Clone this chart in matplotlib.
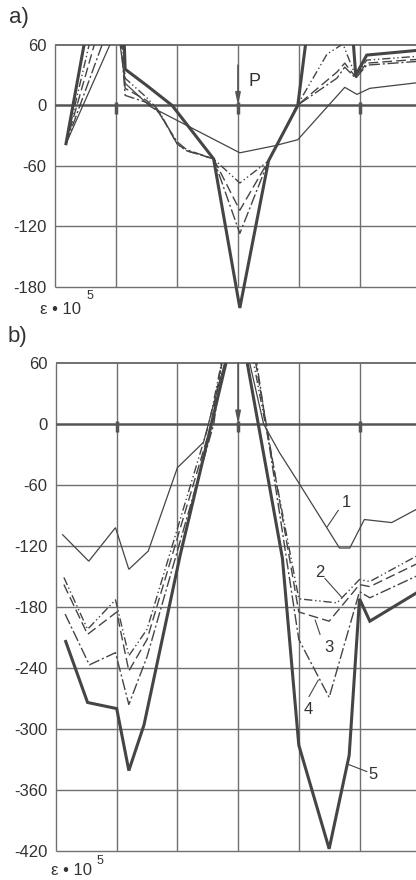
import matplotlib
matplotlib.use('Agg')
import matplotlib.pyplot as plt

plt.rcParams['font.family'] = ['Liberation Sans', 'DejaVu Sans']

# x: gauge position in grid divisions from the left frame, y: strain eps*10^5
# panel a)
a_x1 = [0.18, 1.03, 1.15, 1.56, 3.03, 3.6, 3.98, 4.75, 4.95, 5.16, 6.0]
a_y1 = [-38, 78, 22, -1, -47, -40, -34, 18, 11, 17, 23]
a_x2 = [0.18, 1.03, 1.15, 1.5, 1.7, 2.0, 2.16, 2.6, 3.03, 3.5, 3.97, 4.46, 4.72, 4.93, 5.11, 6.0]
a_y2 = [-38, 182, 27, 8, -5, -38, -45, -53, -77, -55, 0, 51, 61, 29, 45, 49]
a_x3 = [0.18, 1.03, 1.15, 1.5, 1.7, 2.0, 2.16, 2.6, 3.03, 3.5, 3.97, 4.62, 4.75, 4.93, 5.11, 6.0]
a_y3 = [-38, 142, 17, 5, -6, -38, -45, -53, -104, -55, 0, 33, 42, 28, 42, 46]
a_x4 = [0.18, 1.03, 1.15, 1.5, 1.7, 2.0, 2.16, 2.6, 3.03, 3.5, 3.97, 4.62, 4.75, 4.93, 5.11, 6.0]
a_y4 = [-38, 103, 10, 3, -7, -36, -44, -53, -127, -55, 0, 27, 38, 27, 40, 44]
a_x5 = [0.18, 1.03, 1.15, 1.5, 1.92, 2.6, 3.03, 3.5, 3.98, 4.4, 4.82, 4.93, 5.11, 6.0]
a_y5 = [-38, 244, 36, 20, 0, -53, -201, -55, 0, 200, 120, 30, 50, 55]

# panel b)
b_x1 = [0.11, 0.54, 0.98, 1.2, 1.52, 2.0, 2.43, 3.0, 3.42, 3.68, 4.0, 4.67, 4.84, 5.08, 5.53, 6.0]
b_y1 = [-109, -135, -102, -143, -125, -43, -18, 110, 0, -28, -58, -122, -122, -94, -97, -82]
b_x2 = [0.13, 0.52, 0.98, 1.2, 1.5, 2.52, 3.0, 4.0, 4.63, 5.0, 5.17, 6.0]
b_y2 = [-151, -202, -173, -228, -202, 0, 140, -172, -176, -153, -155, -128]
b_x3 = [0.13, 0.52, 1.0, 1.2, 1.5, 2.56, 3.0, 4.0, 4.5, 5.0, 5.17, 6.0]
b_y3 = [-158, -207, -185, -243, -212, 0, 160, -185, -194, -158, -160, -136]
b_x4 = [0.15, 0.55, 0.98, 1.2, 1.5, 2.6, 3.0, 4.0, 4.5, 5.0, 5.17, 6.0]
b_y4 = [-187, -237, -225, -276, -229, 0, 180, -212, -269, -165, -171, -148]
b_x5 = [0.16, 0.52, 1.0, 1.2, 1.45, 2.05, 3.0, 3.73, 4.0, 4.5, 4.83, 5.0, 5.17, 6.0]
b_y5 = [-214, -274, -280, -341, -296, -128, 110, -132, -316, -418, -326, -172, -194, -164]

a_yticks = [60, 0, -60, -120, -180]
b_yticks = [60, 0, -60, -120, -180, -240, -300, -360, -420]

# curve labels in b): (text pos, leader start, leader end)
b_labels = {
    '1': ((4.78, -77), (4.65, -85), (4.47, -101)),
    '2': ((4.35, -146), (4.43, -152), (4.70, -170)),
    '3': ((4.50, -220), (4.35, -207), (4.27, -193)),
    '4': ((4.15, -281), (4.17, -268), (4.32, -252)),
    '5': ((5.23, -345), (5.12, -342), (4.82, -335)),
}

LINE = '#454545'
GRID = '#707070'
TXT = '#333333'

STYLES = [
    dict(lw=0.9, ls='-'),
    dict(lw=1.0, ls=(0, (6, 2, 1, 2, 1, 2))),
    dict(lw=1.0, ls=(0, (7, 3))),
    dict(lw=1.0, ls=(0, (8, 2, 1.5, 2))),
    dict(lw=2.2, ls='-'),
]

W, H = 416, 880


def px_axes(fig, left, top, right, bottom):
    return fig.add_axes([left / W, 1 - bottom / H, (right - left) / W, (bottom - top) / H])


def setup(ax, yticks, ylow, xmax):
    ybot = yticks[-1]
    ax.set_xlim(0, xmax)
    ax.set_ylim(ylow, 60)
    for s in ax.spines.values():
        s.set_visible(False)
    ax.set_xticks([])
    ax.set_yticks(yticks)
    ax.set_yticklabels([str(v) for v in yticks])
    ax.tick_params(axis='y', length=0, pad=6, labelsize=12, labelcolor=TXT)
    # grid frame
    ax.vlines(range(0, 6), ybot, 60, color=GRID, lw=1.0, clip_on=False, zorder=1)
    ax.hlines([v for v in yticks if v not in (0, 60)], 0, xmax, color=GRID, lw=1.0,
              clip_on=False, zorder=1)
    ax.hlines(60, 0, xmax, color=GRID, lw=1.4, clip_on=False, zorder=1)
    ax.hlines(0, 0, xmax, color='#555555', lw=1.8, clip_on=False, zorder=1)
    # support marks on the zero line
    ax.vlines([1, 3, 5], -8, 3, color='#555555', lw=2.5, zorder=2)


def draw_curves(ax, xs, ys):
    for x, y, st in zip(xs, ys, STYLES):
        ax.plot(x, y, color=LINE, solid_joinstyle='miter', zorder=3, **st)


fig = plt.figure(figsize=(W / 100, H / 100), dpi=100)

# ---- a)
ax_a = px_axes(fig, 55, 45, 416, 312)
setup(ax_a, a_yticks, -205, 361 / 61)
draw_curves(ax_a, [a_x1, a_x2, a_x3, a_x4, a_x5], [a_y1, a_y2, a_y3, a_y4, a_y5])
ax_a.annotate('', xy=(3.0, 0), xytext=(3.0, 40),
              arrowprops=dict(arrowstyle='-|>,head_length=0.7,head_width=0.15',
                              color='#555555', lw=1.2, shrinkA=0, shrinkB=0))
ax_a.text(3.17, 24, 'P', fontsize=13, color=TXT, va='center', ha='left')

# ---- b)
ax_b = px_axes(fig, 56, 363, 416, 859)
setup(ax_b, b_yticks, -428, 360 / 60.7)
draw_curves(ax_b, [b_x1, b_x2, b_x3, b_x4, b_x5], [b_y1, b_y2, b_y3, b_y4, b_y5])
ax_b.annotate('', xy=(3.0, 0), xytext=(3.0, 60),
              arrowprops=dict(arrowstyle='-|>,head_length=0.7,head_width=0.15',
                              color='#555555', lw=1.2, shrinkA=0, shrinkB=0))
for lab, (tp, p0, p1) in b_labels.items():
    ax_b.text(tp[0], tp[1], lab, fontsize=12, color=TXT, ha='center', va='center')
    ax_b.plot([p0[0], p1[0]], [p0[1], p1[1]], color=LINE, lw=0.8)

# panel letters and axis captions
fig.text(9 / W, 1 - 18 / H, 'a)', fontsize=16, color=TXT, va='center')
fig.text(8 / W, 1 - 336 / H, 'b)', fontsize=16, color=TXT, va='center')
fig.text(40 / W, 1 - 309 / H, 'ε • 10', fontsize=12, color=TXT, va='center')
fig.text(87 / W, 1 - 296 / H, '5', fontsize=9, color=TXT, va='center')
fig.text(51 / W, 1 - 870 / H, 'ε • 10', fontsize=12, color=TXT, va='center')
fig.text(97 / W, 1 - 861 / H, '5', fontsize=9, color=TXT, va='center')

fig.savefig('out.png', dpi=100)
